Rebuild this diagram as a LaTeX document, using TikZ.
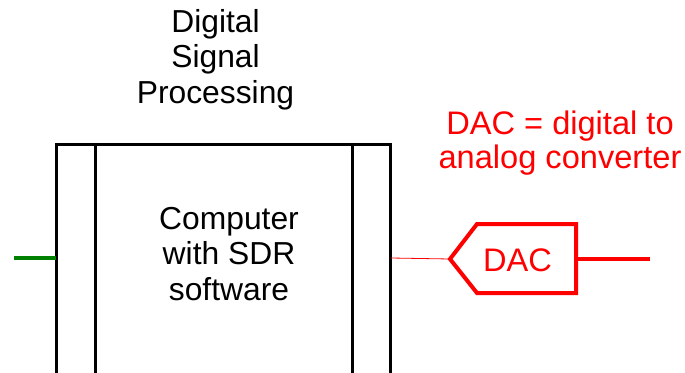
\documentclass[tikz,border=0pt]{standalone}
\usepackage{fontspec}
\setmainfont{Liberation Sans}
\begin{document}
\begin{tikzpicture}[x=1pt,y=-1pt,
  lbl/.style={font=\fontsize{31.8}{35.5}\selectfont, align=center, inner sep=0pt},
  redlbl/.style={font=\fontsize{32.6}{34}\selectfont, align=center, inner sep=0pt, red},
  boxline/.style={line width=3pt, black, line join=miter},
  dacline/.style={line width=4pt, red, line join=miter},
  feed/.style={line width=3.2pt, green!50!black},
  thin/.style={line width=0.8pt, red}]
\useasboundingbox (0,0) rectangle (685,372);
\clip (0,0) rectangle (685,372);
% computer box (extends below the picture)
\coordinate (bTL) at (56,144);
\coordinate (bTR) at (390.5,144);
\coordinate (bBL) at (56,400);
\coordinate (bBR) at (390.5,400);
\draw[boxline] (bBL) -- (bTL) -- (bTR) -- (bBR);
\draw[boxline] (95,144) -- (95,400);
\draw[boxline] (352,144) -- (352,400);
% texts
\node[lbl] (dsp) at (215.5,59.5) {Digital\\Signal\\Processing};
\node[lbl] (comp) at (229,254) {Computer\\with SDR\\software};
\node[redlbl] (note) at (560,143) {DAC = digital to\\analog converter};
% DAC
\node[redlbl] (dac) at (517.5,260) {DAC};
\coordinate (dacin) at (450,259);
\coordinate (dacout) at (576,259);
\draw[dacline] (dacin) -- (477,224) -- (576,224) -- (576,293) -- (477,293) -- cycle;
% connectors
\coordinate (gin) at (14,258);
\coordinate (boxW) at (56,258);
\coordinate (boxE) at (391,258);
\coordinate (outR) at (650,259);
\draw[feed] (gin) -- (boxW);
\draw[thin] (boxE) -- (dacin);
\draw[dacline] (dacout) -- (outR);
\end{tikzpicture}
\end{document}
